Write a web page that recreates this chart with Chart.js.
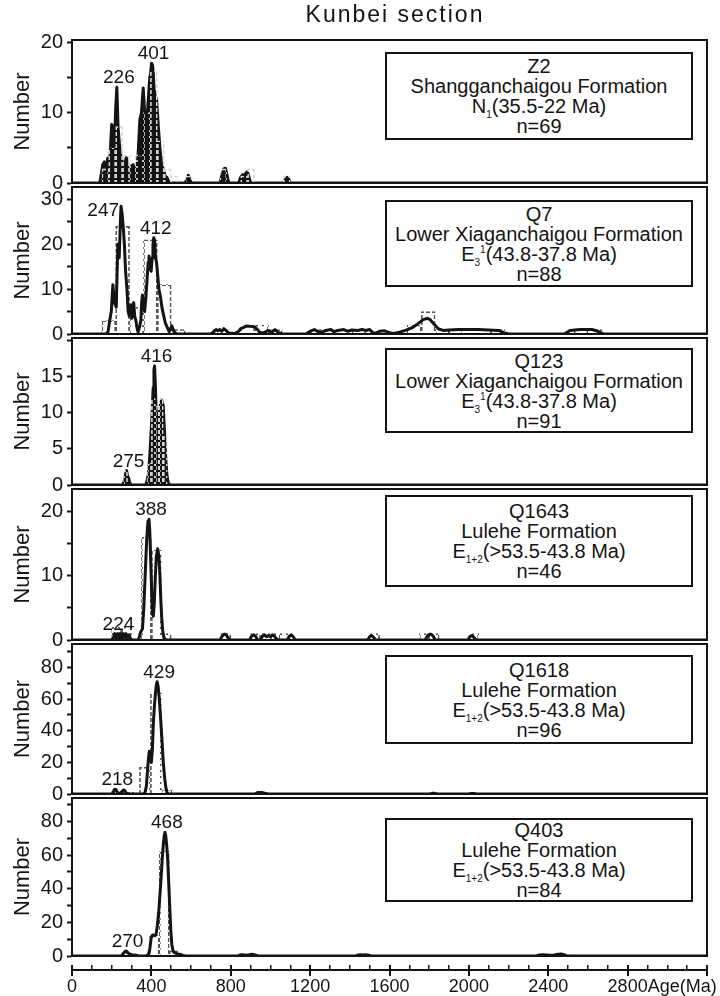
<!DOCTYPE html>
<html>
<head>
<meta charset="utf-8">
<script src="https://cdn.jsdelivr.net/npm/chart.js@4.4.1/dist/chart.umd.min.js"></script>
<style>
html,body{margin:0;padding:0;background:#fff;}
#wrap{position:relative;width:720px;height:996px;overflow:hidden;font-family:"Liberation Sans",Arial,sans-serif;color:#141414;background:#fff;}
#wrap canvas{position:absolute;left:0;}
.title{position:absolute;left:285px;width:220px;top:0px;text-align:center;font-size:23px;letter-spacing:2px;line-height:28px;z-index:3;}
.box{position:absolute;left:385px;width:308px;box-sizing:border-box;border:2px solid #141414;background:#fff;text-align:center;font-size:20px;line-height:20px;display:flex;flex-direction:column;justify-content:center;z-index:3;}
.box sub,.box sup{font-size:10px;line-height:0;}
</style>
</head>
<body>
<div id="wrap">
  <div class="title">Kunbei section</div>
</div>
<script>
// ---------------- DATA ----------------
const sampleNames = ['Z2', 'Q7', 'Q123', 'Q1643', 'Q1618', 'Q403'];
const formationNames = ['Shangganchaigou Formation', 'Lower Xiaganchaigou Formation', 'Lower Xiaganchaigou Formation', 'Lulehe Formation', 'Lulehe Formation', 'Lulehe Formation'];
const stratUnits = ['N<sub>1</sub>(35.5-22 Ma)', 'E<sub>3</sub><sup>1</sup>(43.8-37.8 Ma)', 'E<sub>3</sub><sup>1</sup>(43.8-37.8 Ma)', 'E<sub>1+2</sub>(&gt;53.5-43.8 Ma)', 'E<sub>1+2</sub>(&gt;53.5-43.8 Ma)', 'E<sub>1+2</sub>(&gt;53.5-43.8 Ma)'];
const grainCounts = [69, 88, 91, 46, 96, 84];
const xTickLabels = [0, 400, 800, 1200, 1600, 2000, 2400, 2800];

// probability-density curves: [age (Ma), number]
const kdeZ2 = [[0,0],[140,0],[146,1.0],[155,2.6],[163,3.0],[170,1.4],[180,3.5],[188,2.0],[195,5.5],[200,8.3],[207,8.0],[213,4.5],[220,10.5],[226,13.6],[232,8.0],[240,5.1],[248,3.5],[257,2.5],[265,2.8],[274,3.6],[282,1.8],[291,1.5],[300,2.4],[308,2.6],[316,1.6],[325,1.5],[333,4.0],[342,9.0],[350,10.0],[359,13.5],[365,10.5],[370,8.0],[376,7.5],[380,10.0],[386,12.5],[392,15.0],[396,15.5],[401,17.0],[405,16.8],[409,16.0],[414,13.0],[418,11.0],[426,12.0],[435,8.0],[443,5.0],[452,2.5],[460,2.0],[469,1.0],[478,0.8],[486,0.3],[495,0.1],[505,0],[570,0],[578,0.5],[586,1.1],[594,0.5],[602,0],[745,0],[755,1.0],[765,2.0],[773,2.1],[782,1.0],[790,0],[840,0],[850,0.8],[860,1.2],[868,1.0],[876,1.4],[884,1.6],[892,0.8],[900,0],[1065,0],[1075,0.5],[1085,0.8],[1093,0.5],[1100,0],[3200,0]];
const kdeQ7 = [[0,0],[170,0],[182,0.5],[190,3],[198,5],[206,11],[214,7],[223,6],[231,20],[238,17],[243,24],[247,28.5],[252,27],[258,24],[264,20],[270,14],[277,10],[283,5],[289,4],[293,6],[297,6.5],[301,3.5],[306,5],[311,7],[316,4],[322,3],[327,1.5],[333,0.4],[340,1.5],[347,3],[351,7],[355,8.7],[360,6.5],[366,5],[372,8],[378,12],[384,16],[388,17.4],[393,15],[399,14],[404,17],[408,20],[412,21.5],[416,21],[421,17],[426,16],[432,13],[438,10],[446,8.3],[453,6],[460,4.5],[470,2.5],[480,1.5],[490,0.5],[497,1.2],[503,1.8],[510,1],[518,0.3],[530,0],[700,0],[715,0.5],[726,1],[735,0.7],[745,1],[755,0.6],[765,1.2],[776,0.8],[790,0.2],[820,0.1],[840,0.6],[850,1.2],[866,1.5],[880,1.8],[900,1.7],[920,1.6],[935,1],[945,0.4],[960,0.2],[975,0.5],[990,0.8],[1005,0.3],[1023,1],[1040,0.3],[1060,0],[1180,0],[1200,0.6],[1221,1],[1240,0.5],[1260,0.4],[1280,0.8],[1304,1],[1320,0.5],[1340,0.8],[1370,1],[1390,0.6],[1410,0.9],[1440,0.8],[1462,1],[1480,0.8],[1500,1],[1515,0.3],[1530,0.2],[1550,0.6],[1575,0.7],[1600,0.3],[1620,0.1],[1650,0.4],[1680,0.8],[1710,1.3],[1740,2.2],[1770,3.2],[1790,3.5],[1805,3.2],[1825,2.2],[1845,1.2],[1870,0.8],[1900,0.9],[1950,1],[2000,1],[2050,1],[2100,0.9],[2150,0.8],[2175,0.3],[2200,0],[2480,0],[2510,0.8],[2560,1],[2620,1],[2650,0.6],[2680,0],[3200,0]];
const kdeQ123 = [[0,0],[255,0],[265,0.6],[270,1.5],[275,2],[280,1.2],[285,1],[290,0.4],[298,0],[370,0],[378,0.5],[385,1.5],[392,4],[398,7],[404,10],[409,13.5],[413,16],[416,16.5],[420,14],[424,10],[428,7],[432,6],[436,8],[440,10],[445,11],[450,11.8],[455,11.5],[460,11],[465,8],[470,5],[475,2.5],[480,1],[486,0.2],[495,0],[3200,0]];
const kdeQ1643 = [[0,0],[200,0],[208,0.3],[215,1],[222,0.3],[230,1],[237,0.2],[242,1],[250,0.3],[258,1],[265,0.3],[272,1],[280,0.3],[288,0.8],[295,0.2],[305,0],[335,0],[345,1.2],[355,1.7],[362,5],[370,11],[377,16],[383,18.5],[388,18.8],[392,17],[397,12],[402,7],[406,4],[410,3.7],[415,6],[420,10],[425,13],[432,14.2],[438,13],[443,10],[448,6],[453,3],[458,1.2],[465,0.3],[475,0],[745,0],[755,0.5],[765,0.9],[775,0.9],[785,0.4],[795,0],[895,0],[905,0.6],[915,0.8],[925,0.6],[935,0],[950,0],[960,0.6],[970,0.8],[980,0.5],[990,0.7],[1000,0.5],[1010,0.8],[1020,0.6],[1030,0.2],[1040,0],[1085,0],[1095,0.6],[1105,0.8],[1115,0.5],[1125,0],[1490,0],[1500,0.5],[1510,0.7],[1520,0.4],[1530,0],[1780,0],[1790,0.6],[1800,0.9],[1810,0.9],[1820,0.6],[1830,0],[1995,0],[2005,0.5],[2015,0.7],[2025,0.4],[2035,0],[3200,0]];
const kdeQ1618 = [[0,0],[200,0],[208,1],[213,2.8],[218,3],[223,2.5],[230,0.8],[240,0.3],[250,1],[257,2.4],[262,2.5],[267,2],[274,0.5],[282,0],[360,0],[368,1],[375,5],[380,14],[385,22],[390,27],[395,24],[400,20],[405,28],[410,45],[415,55],[420,63],[425,69],[429,71],[434,68],[440,60],[447,47],[453,35],[460,20],[467,10],[473,4],[478,1],[487,0],[920,0],[930,0.6],[940,1],[950,1],[960,0.9],[970,0.5],[980,0],[1800,0],[1815,0.4],[1830,0.4],[1845,0],[2000,0],[2010,0.3],[2025,0.3],[2040,0],[3200,0]];
const kdeQ403 = [[0,0],[245,0],[255,0.5],[262,2],[268,2.8],[273,3],[280,2.2],[288,1.2],[298,1],[305,0.5],[315,0.6],[323,0.5],[333,0],[375,0],[385,1],[392,4],[398,10],[403,12],[408,12.5],[415,12.2],[423,12.5],[430,18],[437,26],[443,36],[448,45],[455,58],[460,66],[465,72],[468,73.5],[472,72],[477,66],[482,58],[488,42],[493,28],[498,15],[503,7],[509,3],[515,2],[525,1.5],[535,1.2],[545,1],[557,0.5],[570,0],[835,0],[845,0.6],[857,0.8],[868,0.6],[880,0.4],[895,0.8],[907,1],[918,0.8],[930,0.3],[940,0],[1430,0],[1440,0.6],[1455,0.8],[1470,0.6],[1480,0.8],[1495,0.5],[1505,0],[2340,0],[2355,0.6],[2370,0.8],[2390,0.6],[2410,0.4],[2430,0.6],[2450,1],[2465,1.2],[2480,0.8],[2495,0],[3200,0]];

// histograms: bin start ages (Ma), bin widths (Ma), counts
const binStartZ2 = [150,185,220,255,290,325,360,395,430,465,500,570,745,850,885,1065];
const countZ2    = [2,5,8,4,4,4,10,16,6,2,1,1,2,1,2,1];
const binStartQ7 = [150,220,290,360,430,500,710,850,920,990,1200,1270,1340,1410,1690,1760,1830,1900,1970,2040,2110,2530,2600];
const countQ7    = [3,24,6,21,11,1,1,2,2,1,1,1,1,1,2,5,1,1,1,1,1,1,1];
const binStartQ123 = [260,380,400,420,440,460];
const countQ123    = [2,3,12,11,12,7];
const binStartQ1643 = [200,250,350,400,450,750,900,950,1000,1050,1500,1750,1800,2000];
const countQ1643    = [2,2,16,14,1,1,1,1,1,1,1,1,1,1];
const binStartQ1618 = [200,255,340,395,450,930];
const countQ1618    = [2,1,17,64,3,1];
const binStartQ403 = [250,300,390,440,490,850,900,1450,2400,2450];
const countQ403    = [2,1,12,62,3,1,1,1,1,1];
const binWidths = [35, 70, 20, 50, 55, 50];

// labelled age peaks (Ma)
const peaksZ2 = [226, 401];
const peaksQ7 = [247, 412];
const peaksQ123 = [275, 416];
const peaksQ1643 = [224, 388];
const peaksQ1618 = [218, 429];
const peaksQ403 = [270, 468];

// ---------------- LAYOUT / STYLE ----------------
const INK = '#141414';
const FONT = '"Liberation Sans", Arial, sans-serif';
Chart.defaults.font.family = FONT;
Chart.defaults.color = INK;

const layout = [
  {top: 38,  bottom: 185, yMax: 20.3, step: 5,  labelEvery: 10, labelMax: 99, fill: true,  boxTop: 52,  boxH: 88},
  {top: 185, bottom: 336, yMax: 32.8, step: 5,  labelEvery: 10, labelMax: 99, fill: false, boxTop: 200, boxH: 87, leftLabel: [247]},
  {top: 336, bottom: 487, yMax: 20.4, step: 5,  labelEvery: 5,  labelMax: 15, fill: true,  boxTop: 348, boxH: 85},
  {top: 487, bottom: 642, yMax: 23.5, step: 5,  labelEvery: 10, labelMax: 99, fill: false, boxTop: 495, boxH: 92},
  {top: 642, bottom: 796, yMax: 94.8, step: 10, labelEvery: 20, labelMax: 99, fill: false, boxTop: 655, boxH: 89},
  {top: 796, bottom: 958, yMax: 93.9, step: 10, labelEvery: 20, labelMax: 99, fill: false, boxTop: 818, boxH: 84}
];

const samples = [
  {kde: kdeZ2,    starts: binStartZ2,    counts: countZ2,    peaks: peaksZ2},
  {kde: kdeQ7,    starts: binStartQ7,    counts: countQ7,    peaks: peaksQ7},
  {kde: kdeQ123,  starts: binStartQ123,  counts: countQ123,  peaks: peaksQ123},
  {kde: kdeQ1643, starts: binStartQ1643, counts: countQ1643, peaks: peaksQ1643},
  {kde: kdeQ1618, starts: binStartQ1618, counts: countQ1618, peaks: peaksQ1618},
  {kde: kdeQ403,  starts: binStartQ403,  counts: countQ403,  peaks: peaksQ403}
];

const wrap = document.getElementById('wrap');

function dashPattern(color) {
  const c = document.createElement('canvas');
  c.width = 6; c.height = 6;
  const g = c.getContext('2d');
  g.fillStyle = color;
  for (let x = 0; x < 6; x++) for (let y = 0; y < 6; y++) if ((x < 4) === (y < 4)) g.fillRect(x, y, 1, 1);
  return g.createPattern(c, 'repeat');
}

const framePlugin = {
  id: 'frame',
  afterDraw(chart) {
    const {ctx, chartArea: a} = chart;
    ctx.save();
    ctx.strokeStyle = INK;
    ctx.lineWidth = 2;
    ctx.strokeRect(a.left, a.top, a.right - a.left, a.bottom - a.top);
    ctx.restore();
  }
};

function peakPlugin(i) {
  const S = samples[i], L = layout[i];
  return {
    id: 'peakLabels' + i,
    afterDraw(chart) {
      const {ctx} = chart;
      const xs = chart.scales.x, ys = chart.scales.y;
      ctx.save();
      ctx.fillStyle = INK;
      ctx.font = '19px ' + FONT;
      S.peaks.forEach(age => {
        const near = S.kde.filter(p => Math.abs(p[0] - age) <= 15);
        const top = Math.max(...near.map(p => p[1]));
        const px = xs.getPixelForValue(age), py = ys.getPixelForValue(top);
        if (L.leftLabel && L.leftLabel.includes(age)) {
          ctx.textAlign = 'right'; ctx.textBaseline = 'middle';
          ctx.fillText(String(age), px - 2, py + 4);
        } else {
          ctx.textAlign = 'center'; ctx.textBaseline = 'alphabetic';
          ctx.fillText(String(age), px + 2, py - 4);
        }
      });
      ctx.restore();
    }
  };
}

function buildPanel(i) {
  const L = layout[i], S = samples[i];
  const pad = 14;
  const cv = document.createElement('canvas');
  cv.width = 720; cv.height = L.bottom - L.top + 2 * pad;
  cv.style.width = '720px'; cv.style.height = cv.height + 'px';
  cv.style.top = (L.top - pad) + 'px';
  wrap.appendChild(cv);
  const bw = binWidths[i];
  new Chart(cv.getContext('2d'), {
    type: 'line',
    data: {
      datasets: [
        {
          type: 'line', label: 'Probability density',
          data: S.kde.map(p => ({x: p[0], y: p[1]})),
          borderColor: INK, backgroundColor: INK, borderWidth: 3,
          pointRadius: 0, tension: 0, fill: L.fill ? 'origin' : false,
          borderJoinStyle: 'round', borderCapStyle: 'round',
          order: L.fill ? 1 : 0
        },
        {
          type: 'bar', label: 'Histogram',
          data: S.starts.map((s, j) => ({x: s + bw / 2, y: S.counts[j]})),
          backgroundColor: 'rgba(0,0,0,0)',
          borderColor: dashPattern(L.fill ? '#d6d6d6' : '#555555'),
          borderWidth: 1, borderSkipped: 'bottom',
          barPercentage: 1, categoryPercentage: 1,
          order: L.fill ? 0 : 1
        }
      ]
    },
    options: {
      responsive: false, animation: false, devicePixelRatio: 1, events: [],
      layout: {padding: {top: pad, bottom: pad, left: 0, right: 13}},
      plugins: {legend: {display: false}, tooltip: {enabled: false}},
      scales: {
        x: {type: 'linear', display: false, min: 0, max: 3200, offset: false, ticks: {stepSize: 100}},
        y: {
          type: 'linear', min: 0, max: L.yMax,
          afterFit(s) { s.width = 72; },
          border: {display: true, color: INK, width: 2},
          grid: {drawOnChartArea: false, drawTicks: true, tickLength: 5, tickWidth: 2, tickColor: INK},
          ticks: {
            stepSize: L.step, includeBounds: false, autoSkip: false, padding: 4,
            font: {size: 20}, color: INK,
            callback: v => (Math.round(v) % L.labelEvery === 0 && v <= L.labelMax) ? String(v) : ''
          },
          title: {display: true, text: 'Number', font: {size: 22}, color: INK, padding: {top: 10, bottom: 0}}
        }
      }
    },
    plugins: [framePlugin, peakPlugin(i)]
  });

  const box = document.createElement('div');
  box.className = 'box';
  box.style.top = L.boxTop + 'px';
  box.style.height = L.boxH + 'px';
  box.innerHTML = '<div>' + sampleNames[i] + '</div><div>' + formationNames[i] + '</div><div>' + stratUnits[i] + '</div><div>n=' + grainCounts[i] + '</div>';
  wrap.appendChild(box);
}

for (let i = 0; i < 6; i++) buildPanel(i);

// shared age axis
const AX_FONT = 18;
const agePlugin = {
  id: 'ageTitle',
  afterDraw(chart) {
    const xs = chart.scales.x, ctx = chart.ctx;
    ctx.save();
    ctx.font = AX_FONT + 'px ' + FONT;
    ctx.fillStyle = INK;
    ctx.textAlign = 'left';
    ctx.textBaseline = 'middle';
    const last = xTickLabels[xTickLabels.length - 1];
    const x = xs.getPixelForValue(last) + ctx.measureText(String(last)).width / 2;
    const y = xs.top + xs.options.grid.tickLength + xs.options.ticks.padding + AX_FONT * 1.2 / 2;
    ctx.fillText('Age(Ma)', x, y);
    ctx.restore();
  }
};

const axCv = document.createElement('canvas');
axCv.width = 720; axCv.height = 40;
axCv.style.width = '720px'; axCv.style.height = '40px';
axCv.style.top = '956px';
wrap.appendChild(axCv);
const isMajor = c => c.tick && c.tick.value % 400 === 0;
new Chart(axCv.getContext('2d'), {
  type: 'line',
  data: {datasets: []},
  options: {
    responsive: false, animation: false, devicePixelRatio: 1, events: [],
    layout: {padding: {left: 72, right: 13, top: 9, bottom: 0}},
    plugins: {legend: {display: false}, tooltip: {enabled: false}},
    scales: {
      x: {
        type: 'linear', min: 0, max: 3200, offset: false,
        afterFit(s) { s.height = 26; },
        border: {display: true, color: INK, width: 2},
        grid: {
          drawOnChartArea: true, color: INK,
          lineWidth: c => isMajor(c) ? 2 : 1.5,
          tickLength: 6, tickWidth: 2,
          tickColor: c => isMajor(c) ? INK : 'rgba(0,0,0,0)'
        },
        ticks: {
          stepSize: 100, autoSkip: false, maxRotation: 0, padding: 0,
          font: {size: AX_FONT}, color: INK,
          callback: v => xTickLabels.includes(v) ? String(v) : ''
        }
      },
      y: {display: false, min: 0, max: 1}
    }
  },
  plugins: [agePlugin]
});
</script>
</body>
</html>
